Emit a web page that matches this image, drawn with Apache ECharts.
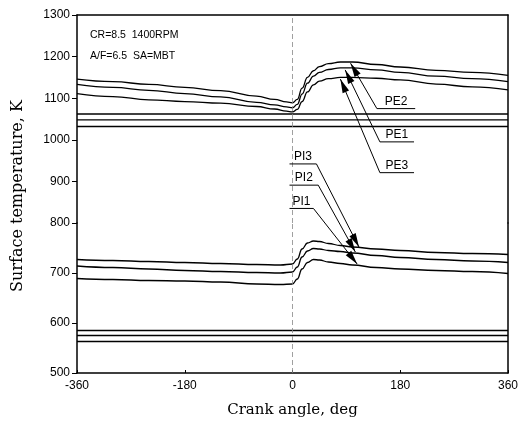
<!DOCTYPE html>
<html><head><meta charset="utf-8">
<script src="https://cdn.jsdelivr.net/npm/echarts@6/dist/echarts.min.js"></script>
<style>html,body{margin:0;padding:0;background:#fff}#c{width:524px;height:422px}</style>
</head><body><div id="c"></div>
<script>
// ---- data ----
const crankPE = [-360,-300,-240,-180,-120,-60,-30,-10,0,8,16,25,35,45,60,80,100,140,180,240,300,360];
const PE2 = [1146,1140,1133,1126,1118,1105,1097,1091,1089,1097,1124,1150,1166,1176,1183,1187,1187,1181,1175,1167,1162,1155];
const PE1 = [1133,1126,1119,1111,1103,1090,1084,1079,1077,1085,1110,1136,1153,1162,1169,1173,1173,1168,1162,1153,1147,1140];
const PE3 = [1111,1104,1096,1092,1088,1080,1074,1069,1067,1073,1092,1115,1132,1141,1147,1150,1150,1148,1144,1134,1127,1120];
const crankPI = [-360,-300,-240,-180,-120,-60,-20,0,8,16,25,35,45,60,80,100,140,180,240,300,360];
const PI3 = [727,725,723,721,719,717,716,718,728,748,760,764,763,759,755,752,748,745,741,739,737];
const PI2 = [714,711,708,705,703,701,700,702,712,732,744,749,748,745,743,740,735,731,727,724,721];
const PI1 = [689,687,685,684,682,678,677,678,688,708,721,727,726,722,719,716,711,708,705,703,699];
const crankFlat = [-360, 360];
const PE_coolant = [1062, 1048, 1032];
const PI_coolant = [585, 575, 563];
const xTickLabels = [-360, -180, 0, 180, 360];
// annotation anchors (data units): label names, underline [startCrank, endCrank, T], arrow tip [crank, T]
const peNames = ['PE2', 'PE1', 'PE3'];
const peUnder = [[141, 205, 1075], [146, 203, 995], [146, 203, 921]];
const peTip = [[97, 1184], [88, 1168], [80, 1146]];
const piNames = ['PI3', 'PI2', 'PI1'];
const piUnder = [[-5, 40, 942], [-5, 43, 891], [-5, 35, 835]];
const piTip = [[111, 752], [105, 742], [108, 718]];
const note1 = 'CR=8.5  1400RPM';
const note2 = 'A/F=6.5  SA=MBT';

const zip = (xs, ys) => xs.map((x, i) => [x, ys[i]]);
const lineStyle = {color: '#000', width: 1.3};
function mk(name, data, gi, extra) {
  return Object.assign({
    name, type: 'line', data, xAxisIndex: gi, yAxisIndex: gi,
    showSymbol: false, symbol: 'none', smooth: 0.45, smoothMonotone: 'x',
    lineStyle, color: '#000', silent: true, animation: false, z: 3
  }, extra || {});
}
const vline = {silent: true, symbol: 'none', animation: false,
  label: {show: false}, lineStyle: {color: '#888', type: [5, 3], width: 0.8},
  data: [{xAxis: 0}]};

const series = [
  mk('PE2', zip(crankPE, PE2), 0, {markLine: vline}),
  mk('PE1', zip(crankPE, PE1), 0),
  mk('PE3', zip(crankPE, PE3), 0),
  ...PE_coolant.map((v, i) => mk('PEc' + i, zip(crankFlat, [v, v]), 0, {smooth: false})),
  mk('PI3', zip(crankPI, PI3), 1, {markLine: vline}),
  mk('PI2', zip(crankPI, PI2), 1),
  mk('PI1', zip(crankPI, PI1), 1),
  ...PI_coolant.map((v, i) => mk('PIc' + i, zip(crankFlat, [v, v]), 1, {smooth: false}))
];

const axisFont = {color: '#000', fontFamily: 'Liberation Sans', fontSize: 12};
const blackLine = {show: true, onZero: false, lineStyle: {color: '#000', width: 1.5}};
const chart = echarts.init(document.getElementById('c'), null, {renderer: 'canvas'});
chart.setOption({
  animation: false,
  backgroundColor: '#fff',
  grid: [
    {left: 77, top: 15, width: 431, height: 208},
    {left: 77, top: 223, width: 431, height: 150}
  ],
  xAxis: [
    {gridIndex: 0, type: 'value', min: -360, max: 360, interval: 180, position: 'top',
     axisLine: blackLine, axisTick: {show: false}, axisLabel: {show: false}, splitLine: {show: false}},
    {gridIndex: 1, type: 'value', min: -360, max: 360, interval: 180, position: 'bottom',
     axisLine: blackLine, axisTick: {show: true, inside: true, length: 3, lineStyle: {color: '#000'}},
     axisLabel: Object.assign({margin: 7, formatter: v => xTickLabels.includes(v) ? String(v) : ''}, axisFont),
     splitLine: {show: false},
     name: 'Crank angle, deg', nameLocation: 'middle', nameGap: 30,
     nameTextStyle: {color: '#000', fontFamily: 'DejaVu Serif', fontSize: 15}}
  ],
  yAxis: [
    {gridIndex: 0, type: 'value', min: 800, max: 1300, interval: 100, position: 'left',
     axisLine: blackLine, axisTick: {show: true, length: 5, lineStyle: {color: '#000'}},
     axisLabel: Object.assign({margin: 7, showMinLabel: false, formatter: v => String(v)}, axisFont), splitLine: {show: false}},
    {gridIndex: 1, type: 'value', min: 500, max: 800, interval: 100, position: 'left',
     axisLine: blackLine, axisTick: {show: true, length: 5, lineStyle: {color: '#000'}},
     axisLabel: Object.assign({margin: 7, formatter: v => String(v)}, axisFont), splitLine: {show: false}},
    {gridIndex: 0, type: 'value', min: 800, max: 1300, position: 'right',
     axisLine: blackLine, axisTick: {show: false}, axisLabel: {show: false}, splitLine: {show: false}},
    {gridIndex: 1, type: 'value', min: 500, max: 800, position: 'right',
     axisLine: blackLine, axisTick: {show: false}, axisLabel: {show: false}, splitLine: {show: false}}
  ],
  series
});

// ---- annotations built from data anchors through the axes ----
function P(gi, pt) { return chart.convertToPixel({gridIndex: gi}, pt); }
function arrowHead(from, tip) {
  const dx = tip[0] - from[0], dy = tip[1] - from[1];
  const L = Math.hypot(dx, dy), ux = dx / L, uy = dy / L;
  const len = 14, hw = 3.5;
  const bx = tip[0] - ux * len, by = tip[1] - uy * len;
  return {type: 'polygon', silent: true, z: 10,
    shape: {points: [tip, [bx - uy * hw, by + ux * hw], [bx + uy * hw, by - ux * hw]]},
    style: {fill: '#000'}};
}
function seg(a, b) {
  return {type: 'line', silent: true, z: 10, shape: {x1: a[0], y1: a[1], x2: b[0], y2: b[1]},
    style: {stroke: '#000', lineWidth: 1}};
}
function label(txt, a, b) {
  return {type: 'text', silent: true, z: 10, x: (a[0] + b[0]) / 2, y: a[1] - 1,
    style: {text: txt, font: '12px Liberation Sans', fill: '#000',
      textAlign: 'center', align: 'center', textVerticalAlign: 'bottom', verticalAlign: 'bottom'}};
}
const g = [];
peNames.forEach((n, i) => {
  const a = P(0, [peUnder[i][0], peUnder[i][2]]), b = P(0, [peUnder[i][1], peUnder[i][2]]);
  const t = P(0, peTip[i]);
  g.push(seg(a, b), seg(a, t), arrowHead(a, t), label(n, a, b));
});
piNames.forEach((n, i) => {
  const a = P(0, [piUnder[i][0], piUnder[i][2]]), b = P(0, [piUnder[i][1], piUnder[i][2]]);
  const t = P(1, piTip[i]);
  g.push(seg(a, b), seg(b, t), arrowHead(b, t), label(n, a, b));
});
g.push({type: 'text', silent: true, x: 90, y: 35,
  style: {text: note1, font: '10.5px Liberation Sans', fill: '#000', verticalAlign: 'middle', textVerticalAlign: 'middle'}});
g.push({type: 'text', silent: true, x: 90, y: 56,
  style: {text: note2, font: '10.5px Liberation Sans', fill: '#000', verticalAlign: 'middle', textVerticalAlign: 'middle'}});
g.push({type: 'text', silent: true, x: 18, y: 196, rotation: Math.PI / 2,
  style: {text: 'Surface temperature, K', font: '16px DejaVu Serif', fill: '#000',
    textAlign: 'center', align: 'center', textVerticalAlign: 'middle', verticalAlign: 'middle'}});
chart.setOption({graphic: {elements: g}});
</script>
</body></html>
